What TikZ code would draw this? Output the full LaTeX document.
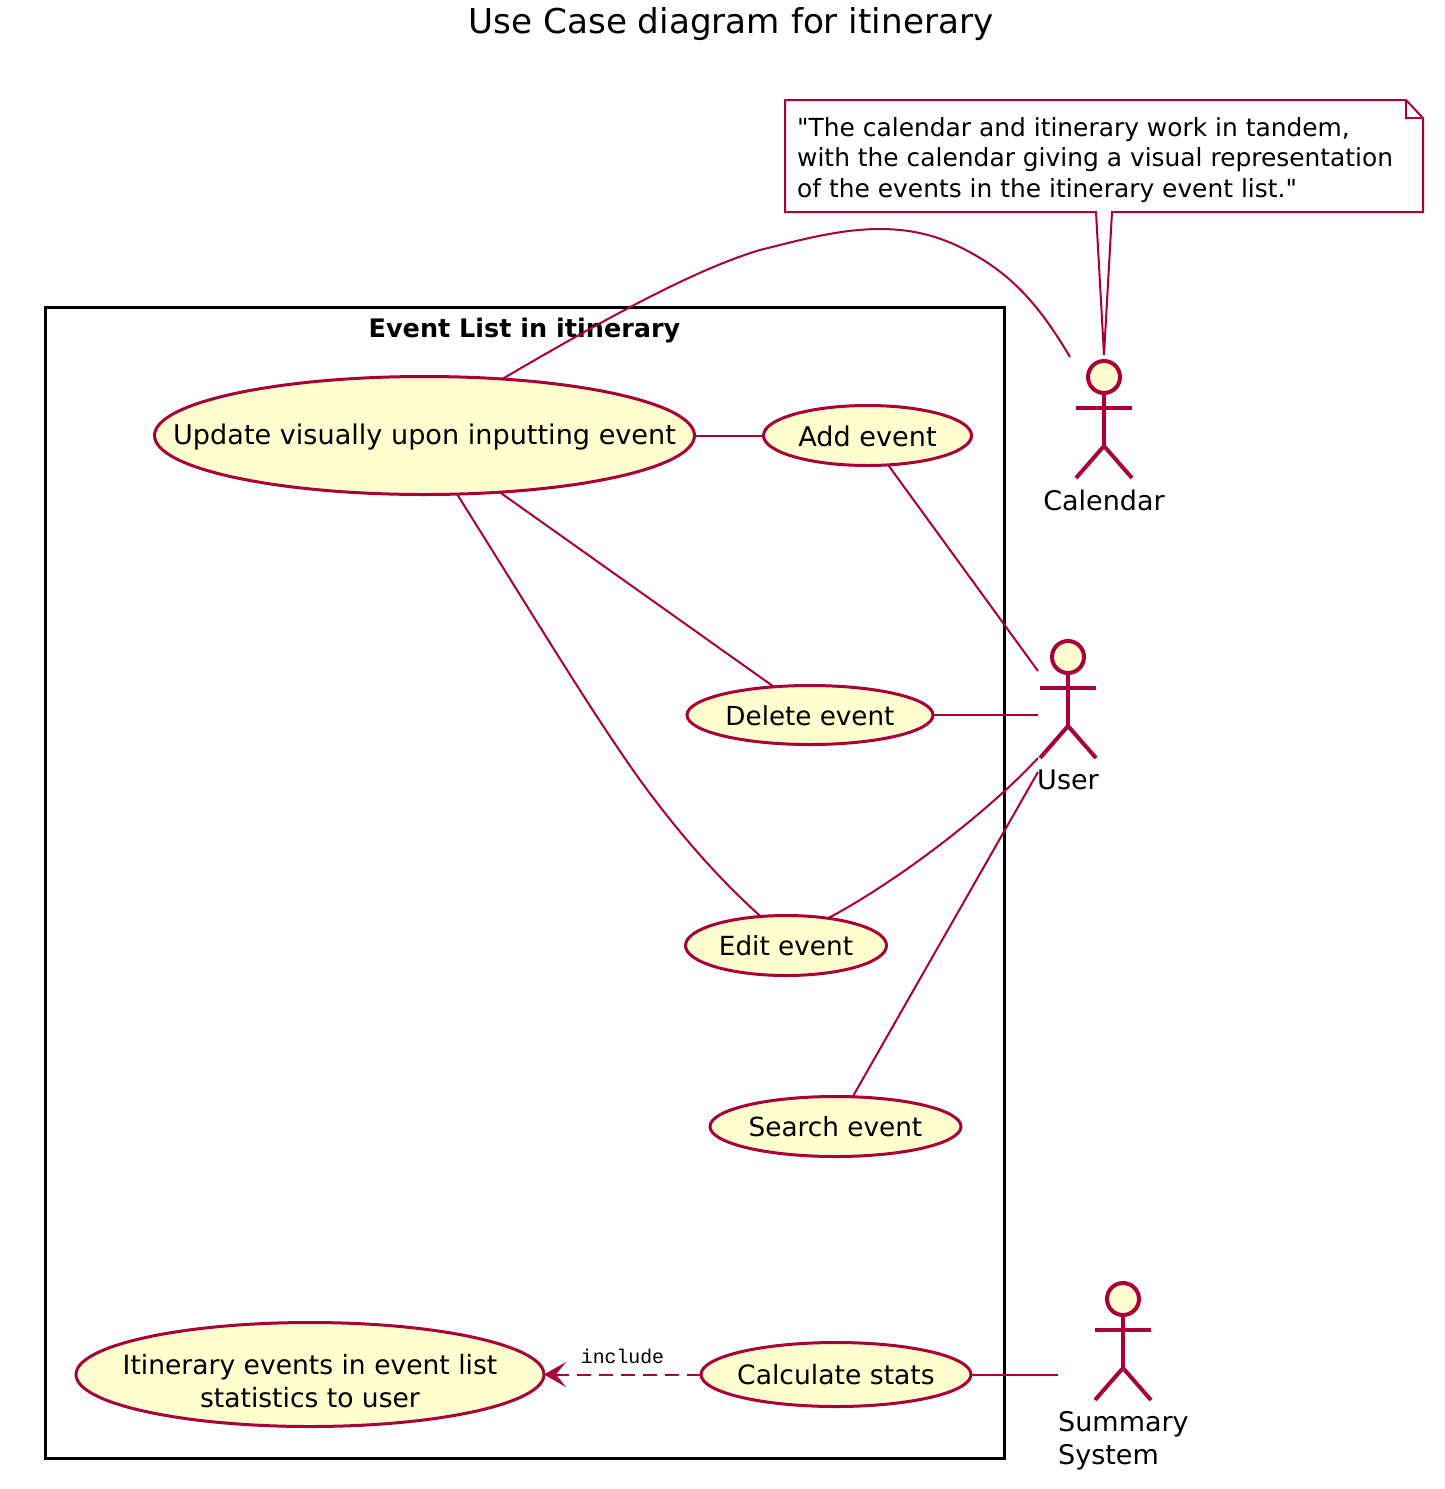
\documentclass[tikz,border=0pt]{standalone}
\usepackage{fontspec}
\setmainfont{DejaVu Sans}
\setmonofont{Liberation Mono}
\newfontfamily\notefont{DejaVu Sans}
\usetikzlibrary{shapes.geometric,arrows.meta}
\definecolor{umlline}{HTML}{A80036}
\definecolor{umlfill}{HTML}{FEFECE}
\tikzset{
  usecase/.style={ellipse,draw=umlline,fill=umlfill,line width=3pt,inner sep=0pt,outer sep=0pt},
  uclabel/.style={align=center,inner sep=0pt,font=\fontsize{#1}{33}\selectfont},
  uclabel/.default=26.5,
  link/.style={draw=umlline,line width=2pt},
  stick/.style={draw=umlline,line width=4pt},
  head/.style={ellipse,draw=umlline,fill=umlfill,line width=4pt,minimum width=32pt,minimum height=32pt,inner sep=0pt,outer sep=0pt},
  actorlabel/.style={font=\fontsize{27}{33}\selectfont,align=left,inner sep=0pt},
}
\newcommand{\stickman}[3]{% name, x of centre, y of head centre
  \node[head] (#1) at (#2,#3) {};
  \draw[stick] (#1.south) -- (#2,#3+69);
  \draw[stick] (#2-28,#3+31) -- (#2+28,#3+31);
  \draw[stick] (#2-28,#3+101) -- (#2,#3+69) -- (#2+28,#3+101);
}
\begin{document}
\begin{tikzpicture}[x=1pt,y=-1pt]
\useasboundingbox (0,0) rectangle (1445,1489);
\node[font=\fontsize{34.2}{40}\selectfont,inner sep=0pt] (title) at (731,24) {Use Case diagram for itinerary};

% system boundary
\node[draw=black,line width=3pt,minimum width=959pt,minimum height=1151pt,inner sep=0pt,outer sep=0pt] (sys) at (524.5,882.5) {};
\node[font=\bfseries\fontsize{25.5}{30}\selectfont,inner sep=0pt] (systitle) at (524.5,331) {Event List in itinerary};

% use cases
\node[usecase,minimum width=540pt,minimum height=118pt] (upd) at (424.5,435.5) {};
\node[uclabel=27.1] (updt) at (424.5,437) {Update visually upon inputting event};
\node[usecase,minimum width=208pt,minimum height=60pt] (add) at (867.5,435.5) {};
\node[uclabel=27.1] (addt) at (867.5,436) {Add event};
\node[usecase,minimum width=246pt,minimum height=59pt] (del) at (810,715) {};
\node[uclabel=26.2] (delt) at (810,715.5) {Delete event};
\node[usecase,minimum width=201pt,minimum height=60pt] (edit) at (786,945.5) {};
\node[uclabel=26.3] (editt) at (786,946) {Edit event};
\node[usecase,minimum width=251pt,minimum height=60pt] (search) at (835.5,1126.5) {};
\node[uclabel=26.3] (searcht) at (835.5,1127) {Search event};
\node[usecase,minimum width=270pt,minimum height=64pt] (calc) at (836,1374.5) {};
\node[uclabel=26.6] (calct) at (836,1375) {Calculate stats};
\node[usecase,minimum width=468pt,minimum height=104pt] (stats) at (310,1374.5) {};
\node[uclabel=26.55] (statst) at (310,1381) {Itinerary events in event list\\statistics to user};

% actors
\stickman{cal}{1104}{377}
\stickman{usr}{1068}{657}
\stickman{sum}{1123}{1299}
\node[actorlabel] (callabel) at (1104,500) {Calendar};
\node[actorlabel] (usrlabel) at (1068,780) {User};
\node[actorlabel,anchor=north west] (sumlabel) at (1058,1411) {Summary\\System};

% connector ends near the actors
\coordinate (calend) at (1070,357);
\coordinate (usrA) at (1038,671);
\coordinate (usrB) at (1038,715);
\coordinate (usrC) at (1038,758);
\coordinate (usrD) at (1038,772);
\coordinate (sumend) at (1058,1374.5);

% note
\coordinate (tip) at (1104,355);
\filldraw[draw=umlline,fill=white,line width=2pt,line join=miter]
  (785,100) -- (1406,100) -- (1423,118) -- (1423,212) -- (1112,212) -- (tip) -- (1096,212) -- (785,212) -- cycle;
\draw[draw=umlline,line width=2pt] (1406,100) -- (1406,118) -- (1423,118);
\node[anchor=north west,align=left,inner sep=0pt,font=\notefont\fontsize{24.9}{30.6}\selectfont] (note) at (797,117)
 {"The calendar and itinerary work in tandem,\\with the calendar giving a visual representation\\of the events in the itinerary event list."};

% connectors
\draw[link] (upd.36) .. controls (620,310) and (700,268) .. (760,250)
  .. controls (800,240) and (840,229) .. (880,229)
  .. controls (925,229) and (955,243) .. (980,258)
  .. controls (1020,282) and (1045,315) .. (calend);
\draw[link] (upd.east) -- (add.west);
\draw[link] (upd.-37.4) -- (del.142.6);
\draw[link] (upd.-61.7) .. controls (530,610) and (590,710) .. (640,780)
  .. controls (680,835) and (720,880) .. (edit.131.4);
\draw[link] (add.-55) -- (usrA);
\draw[link] (del.east) -- (usrB);
\draw[link] (edit.33) .. controls (900,880) and (990,810) .. (usrC);
\draw[link] (search.60.8) -- (usrD);
\draw[link] (calc.east) -- (sumend);
\draw[link,dash pattern=on 14pt off 8pt,-{Stealth[length=22pt,width=25pt,inset=10pt]}] (calc.west) -- (stats.east);
\node[font=\ttfamily\fontsize{19.8}{22}\selectfont,inner sep=0pt] (inc) at (622.5,1356) {include};
\end{tikzpicture}
\end{document}
